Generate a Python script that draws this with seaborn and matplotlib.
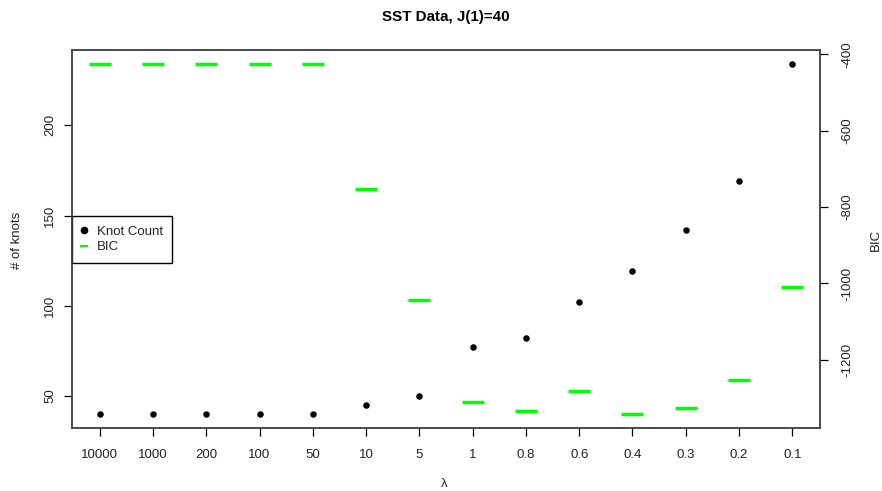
import matplotlib
matplotlib.use("Agg")
import matplotlib.pyplot as plt
import seaborn as sns
import pandas as pd
import numpy as np
from matplotlib.lines import Line2D

lambdas = ["10000", "1000", "200", "100", "50", "10", "5", "1", "0.8", "0.6", "0.4", "0.3", "0.2", "0.1"]
knot_count = [40, 40, 40, 40, 40, 45, 50, 77, 82, 102, 119, 142, 169, 234]
bic = [-425, -425, -425, -425, -425, -753, -1044, -1311, -1334, -1282, -1342, -1325, -1253, -1010]
left_ticks = [50, 100, 150, 200]
right_ticks = [-400, -600, -800, -1000, -1200]

sns.set_theme(style="white")
plt.rcParams["font.family"] = ["Liberation Sans", "DejaVu Sans"]

df = pd.DataFrame({"pos": np.arange(1, len(lambdas) + 1), "lambda": lambdas,
                   "knots": knot_count, "bic": bic})

fig = plt.figure(figsize=(8.82, 4.91), dpi=100)
ax = fig.add_axes([72 / 882, 1 - 428 / 491, (820 - 72) / 882, (428 - 50) / 491])
ax2 = ax.twinx()

def rpad(lo, hi):
    r = hi - lo
    return lo - 0.04 * r, hi + 0.04 * r

sns.scatterplot(data=df, x="pos", y="knots", ax=ax, color="black", s=22,
                edgecolor="black", linewidth=0, legend=False, zorder=3)
sns.scatterplot(data=df, x="pos", y="bic", ax=ax2, marker="_", s=16.5 ** 2,
                color="#00ff00", linewidth=2.5, legend=False, zorder=3)

ax.set_xlim(*rpad(1, len(lambdas)))
ax.set_ylim(*rpad(min(knot_count), max(knot_count)))
ax2.set_ylim(*rpad(min(bic), max(bic)))

ax.set_xticks(df["pos"])
ax.set_xticklabels(lambdas, fontsize=9.5, color="#222222")
ax.set_yticks(left_ticks)
ax.set_yticklabels([str(t) for t in left_ticks], fontsize=9.5, rotation=90,
                   va="center", color="#222222")
ax2.set_yticks(right_ticks)
ax2.set_yticklabels([str(t) for t in right_ticks], fontsize=9.5, rotation=90,
                    va="center", color="#222222")

for a in (ax, ax2):
    a.tick_params(direction="out", length=6, width=0.9, color="black")
    for s in a.spines.values():
        s.set_color("#444444")
        s.set_linewidth(1.1)
ax.tick_params(axis="x", bottom=True, pad=9)
ax.tick_params(axis="y", left=True, pad=5.5)
ax2.tick_params(axis="y", right=True, pad=9.5)

ax.set_xlabel("")
ax.set_ylabel("")
ax2.set_ylabel("")
fig.text(17 / 882, 1 - 240 / 491, "# of knots", rotation=90, ha="center", va="center",
         fontsize=9.5, color="#222222")
fig.text(876 / 882, 1 - 240 / 491, "BIC", rotation=90, ha="center", va="center",
         fontsize=9.5, color="#222222")
fig.text(444 / 882, 1 - 484 / 491, "λ", ha="center", va="center", fontsize=9.5,
         color="#222222")
fig.text(446 / 882, 1 - 17 / 491, "SST Data, J(1)=40", ha="center", va="center",
         fontsize=10.9, fontweight="bold", color="black")

handles = [Line2D([], [], marker="o", linestyle="none", color="black", markersize=4.5),
           Line2D([], [], marker="_", linestyle="none", color="#00ff00",
                  markersize=6, markeredgewidth=1.5)]
leg = ax.legend(handles, ["Knot Count", "BIC"], loc="upper left",
                bbox_to_anchor=(72 / 882, 1 - 216 / 491), bbox_transform=fig.transFigure,
                fontsize=9.5, frameon=True, fancybox=False, framealpha=1,
                borderpad=0.72, labelspacing=0.25, handlelength=0.4, handletextpad=0.75,
                borderaxespad=0)
leg.get_frame().set_edgecolor("black")
leg.get_frame().set_linewidth(1.0)
leg.set_zorder(10)

fig.savefig("out.png", dpi=100, facecolor="white")
